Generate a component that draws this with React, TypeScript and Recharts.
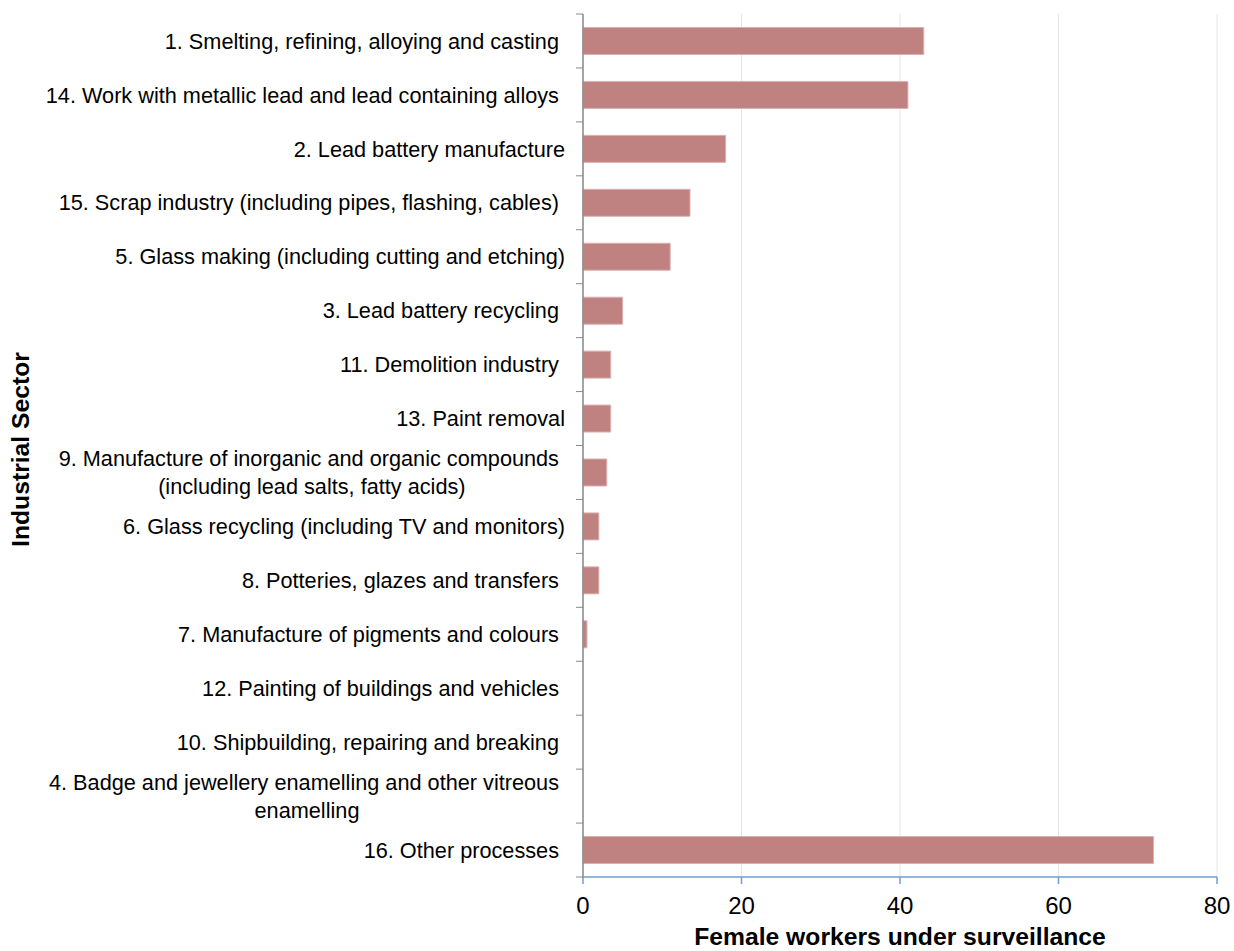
import React from 'react';
import { BarChart, Bar, XAxis, YAxis, CartesianGrid, Label } from 'recharts';

const categories: string[] = [
  '1. Smelting, refining, alloying and casting ',
  '14. Work with metallic lead and lead containing alloys ',
  '2. Lead battery manufacture',
  '15. Scrap industry (including pipes, flashing, cables) ',
  '5. Glass making (including cutting and etching)',
  '3. Lead battery recycling ',
  '11. Demolition industry ',
  '13. Paint removal',
  '9. Manufacture of inorganic and organic compounds \n(including lead salts, fatty acids)',
  '6. Glass recycling (including TV and monitors)',
  '8. Potteries, glazes and transfers ',
  '7. Manufacture of pigments and colours ',
  '12. Painting of buildings and vehicles ',
  '10. Shipbuilding, repairing and breaking ',
  '4. Badge and jewellery enamelling and other vitreous \nenamelling',
  '16. Other processes ',
];

const femaleWorkers: number[] = [43, 41, 18, 13.5, 11, 5, 3.5, 3.5, 3, 2, 2, 0.5, 0, 0, 0, 72];

const xTicks: number[] = [0, 20, 40, 60, 80];

const data = categories.map((name, i) => ({ name, value: femaleWorkers[i] }));

const LABEL_FONT = "21.7px 'Liberation Sans', Arial, sans-serif";
const TITLE_FONT = "bold 24.7px 'Liberation Sans', Arial, sans-serif";
let measureCtx: CanvasRenderingContext2D | null = null;
function measure(text: string): number {
  if (!measureCtx) {
    const c = document.createElement('canvas');
    measureCtx = c.getContext('2d');
  }
  if (!measureCtx) return text.length * 10;
  measureCtx.font = LABEL_FONT;
  return measureCtx.measureText(text).width;
}

const CategoryTick = (props: any) => {
  const { x, y, payload, index, visibleTicksCount } = props;
  const half = payload && payload.offset ? payload.offset : 0;
  const axisX = x + 7;
  const right = x - 11;
  const lines = String(payload.value).split('\n');
  const isLast = index === (visibleTicksCount ?? categories.length) - 1;
  const textEls =
    lines.length === 1 ? (
      <text
        x={right}
        y={y}
        dy="0.355em"
        textAnchor="end"
        fill="#000"
        style={{ whiteSpace: 'pre', font: LABEL_FONT }}
      >
        {lines[0]}
      </text>
    ) : (
      (() => {
        const w = Math.max(...lines.map(measure));
        const cx = right - w / 2;
        const step = 28;
        const start = y - ((lines.length - 1) * step) / 2;
        return (
          <text textAnchor="middle" fill="#000" style={{ whiteSpace: 'pre', font: LABEL_FONT }}>
            {lines.map((l, i) => (
              <tspan key={i} x={cx} y={start + i * step} dy="0.355em">
                {l}
              </tspan>
            ))}
          </text>
        );
      })()
    );
  return (
    <g>
      <line x1={x} x2={axisX} y1={y - half} y2={y - half} stroke="#8a8a8a" strokeWidth={1} />
      {isLast && <line x1={x} x2={axisX} y1={y + half} y2={y + half} stroke="#8a8a8a" strokeWidth={1} />}
      {textEls}
    </g>
  );
};

const XTitle = (props: any) => {
  const vb = props.viewBox || { x: 0, y: 0, width: 0, height: 0 };
  return (
    <text
      x={vb.x + vb.width / 2}
      y={vb.y + 68}
      textAnchor="middle"
      fill="#000"
      style={{ font: TITLE_FONT }}
    >
      Female workers under surveillance
    </text>
  );
};

const YTitle = (props: any) => {
  const vb = props.viewBox || { x: 0, y: 0, width: 0, height: 0 };
  const cx = vb.x + 20;
  const cy = vb.y + vb.height / 2 + 4;
  return (
    <text
      x={cx}
      y={cy}
      dy="0.355em"
      textAnchor="middle"
      transform={`rotate(-90, ${cx}, ${cy})`}
      fill="#000"
      style={{ font: TITLE_FONT }}
    >
      Industrial Sector
    </text>
  );
};

export default function App() {
  return (
    <div style={{ position: 'absolute', left: 0, top: 0, width: 1234, height: 951, background: '#fff' }}>
      <BarChart
        width={1234}
        height={951}
        data={data}
        layout="vertical"
        margin={{ top: 14, right: 17, bottom: 0, left: 0 }}
        barCategoryGap="25%"
      >
        <CartesianGrid horizontal={false} stroke="#E6E6E6" />
        <XAxis
          type="number"
          domain={[0, 80]}
          ticks={xTicks}
          interval={0}
          height={74}
          stroke="#6E9ED6"
          tickSize={7}
          tickMargin={13}
          tick={{ fill: '#000', fontSize: 24, fontFamily: "'Liberation Sans', Arial, sans-serif" }}
          axisLine={{ stroke: '#6E9ED6', strokeWidth: 1.5 }}
          tickLine={{ stroke: '#6E9ED6', strokeWidth: 1.5 }}
        >
          <Label content={XTitle} />
        </XAxis>
        <YAxis
          type="category"
          dataKey="name"
          width={583}
          interval={0}
          tickSize={7}
          tickMargin={0}
          tickLine={false}
          axisLine={{ stroke: '#8a8a8a', strokeWidth: 1.5 }}
          tick={<CategoryTick />}
        >
          <Label content={YTitle} />
        </YAxis>
        <Bar dataKey="value" fill="#C08281" stroke="#D9B3B2" strokeWidth={1} isAnimationActive={false} />
      </BarChart>
    </div>
  );
}
